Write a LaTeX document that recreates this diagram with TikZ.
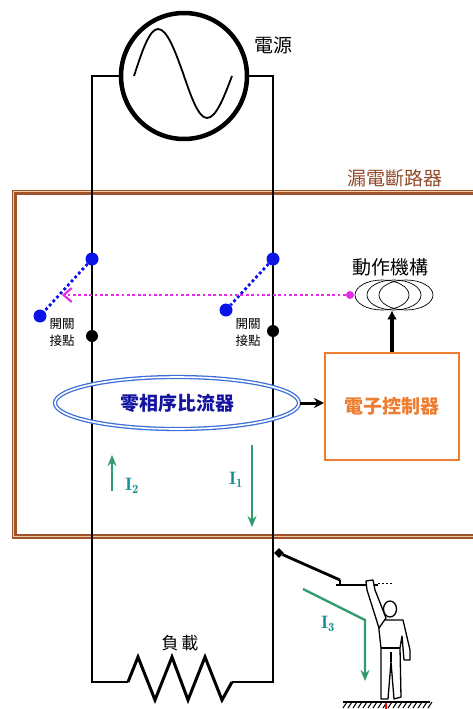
\documentclass[tikz,border=0pt]{standalone}
\usepackage{fontspec}
\newfontfamily\cjk{Noto Sans CJK TC}
\usetikzlibrary{arrows.meta,shapes.geometric}
\definecolor{BreakerBrown}{HTML}{A0522D}
\definecolor{BreakerTan}{HTML}{EBCBA5}
\definecolor{ContactBlue}{HTML}{0A14E6}
\definecolor{TripMagenta}{HTML}{E62CE6}
\definecolor{CoreBlue}{HTML}{3C6FD6}
\definecolor{CoreText}{HTML}{1414A0}
\definecolor{CtrlOrange}{HTML}{ED7D31}
\definecolor{CurrentGreen}{HTML}{2E9C6C}
\definecolor{CurrentTeal}{HTML}{178F90}

\begin{document}
\begin{tikzpicture}[x=1pt,y=-1pt,>=Latex,
  wire/.style={line width=2pt},
  contact/.style={circle,fill=ContactBlue,inner sep=0pt,minimum size=13pt},
  fixed/.style={circle,fill=black,inner sep=0pt,minimum size=12pt},
  blade/.style={ContactBlue,line width=2.8pt,dash pattern=on 2.8pt off 2.6pt},
  current/.style={CurrentGreen,line width=2.4pt,-{Stealth[length=11pt,width=9pt]}},
  ilabel/.style={text=CurrentTeal,font=\fontsize{18}{20}\selectfont},
  big/.style={font=\cjk\fontsize{19}{22}\selectfont},
  bigbold/.style={font=\cjk\bfseries\fontsize{19}{22}\selectfont},
  small/.style={font=\cjk\fontsize{12.5}{17}\selectfont,align=center},
  coil/.style={ellipse,draw,line width=.7pt,minimum width=54pt,minimum height=30pt,inner sep=0pt}]
  \clip (0,0) rectangle (473,709);

  % supply
  \node[circle,draw,line width=4.5pt,minimum size=126pt,inner sep=0pt] (src) at (184,76) {};
  \draw[line width=1.8pt] (134,76) sin (158,29) cos (183,73) sin (207,118) cos (232,76);
  \node[big] (srclbl) at (273,45) {電源};

  % breaker housing
  \draw[BreakerBrown,line width=5pt] (14.5,192.5) rectangle (490,536);
  \draw[BreakerTan,line width=1.2pt] (13.8,191.8) rectangle (490,536.7);
  \node[big,text=BreakerBrown!90!black] (brklbl) at (395,178) {漏電斷路器};

  % line, neutral and load
  \coordinate (Lbot) at (92,682);
  \coordinate (Rbot) at (273,682);
  \coordinate (resL) at (128,682);
  \coordinate (resR) at (232,682);
  \draw[wire] (src.west) -| (Lbot) -- (resL);
  \draw[wire] (src.east) -| (Rbot) -- (resR);
  \draw[line width=3pt,line join=miter] (resL) -- ++(10,-25) -- ++(17,43) -- ++(17,-43)
    -- ++(16,43) -- ++(17,-43) -- ++(17,43) -- (resR);
  \node[font=\cjk\fontsize{17}{20}\selectfont] (loadlbl) at (180,643) {負\,載};

  % contacts
  \node[contact] (la) at (92,259) {};
  \node[contact] (lb) at (40,316) {};
  \node[fixed] (lc) at (92,336) {};
  \node[contact] (ra) at (273,259) {};
  \node[contact] (rb) at (226,310) {};
  \node[fixed] (rc) at (273,331) {};
  \draw[blade] (la) -- (lb);
  \draw[blade] (ra) -- (rb);
  \node[small] (lsw) at (62,333) {開關\\接點};
  \node[small] (rsw) at (248,333) {開關\\接點};

  % trip mechanism
  \node[coil] (coil1) at (382,295) {};
  \node[coil] (coil2) at (394,295) {};
  \node[coil] (coil3) at (406,295) {};
  \node[big] (actlbl) at (390,267) {動作機構};
  \node[circle,fill=TripMagenta,inner sep=0pt,minimum size=8pt] (mdot) at (350,295) {};
  \coordinate (trip) at (62,295);
  \draw[TripMagenta,line width=2.8pt,dash pattern=on 2.8pt off 2.6pt,
    -{Straight Barb[length=8pt,width=14pt,line width=2.2pt]}] (mdot) -- (trip);

  % sensing and control
  \node[ellipse,draw=CoreBlue,double=white,double distance=1.6pt,line width=1.3pt,
    minimum width=244pt,minimum height=52pt,text=CoreText,bigbold] (ct) at (177,403) {零相序比流器};
  \node[draw=CtrlOrange,line width=2pt,minimum width=134pt,minimum height=107pt,
    text=CtrlOrange,bigbold] (ctrl) at (392,406) {電子控制器};
  \draw[line width=3pt,-{Stealth[length=10pt,width=10pt]}] (ct.east) -- (ct.east -| ctrl.west);
  \draw[line width=3.2pt,-{Latex[length=9pt,width=10pt]}] (ctrl.north) -- (ctrl.north |- coil2.south);

  % currents
  \coordinate (i2a) at (112,491);
  \coordinate (i2b) at (112,455);
  \coordinate (i1a) at (252,445);
  \coordinate (i1b) at (252,527);
  \draw[current] (i2a) -- (i2b);
  \draw[current] (i1a) -- (i1b);
  \node[ilabel] (i2lbl) at (132,486) {$\mathbf{I_2}$};
  \node[ilabel] (i1lbl) at (236,480) {$\mathbf{I_1}$};

  % leakage through a person
  \node[diamond,fill=black,inner sep=0pt,minimum size=10pt] (tap) at (279,553) {};
  \coordinate (grip) at (340,580);
  \draw[line width=2.8pt] (tap) -- (grip);
  \draw[line width=1.6pt] (grip) -- ++(0,6);
  \draw[line width=1.3pt] (336,585) -- (378,585);
  \draw[line width=.8pt,dash pattern=on 2pt off 2pt] (378,583) -- (392,583);
  \coordinate (i3a) at (303,589);
  \coordinate (i3b) at (365,620);
  \coordinate (i3c) at (365,681);
  \draw[current] (i3a) -- (i3b) -- (i3c);
  \node[ilabel] (i3lbl) at (328,624) {$\mathbf{I_3}$};

  \draw[line width=1.3pt,fill=white,line join=round] (378,620) -- (403,620) -- (410,650) -- (410,660)
    -- (404,660) -- (402,636) -- (400,648) -- (401,697) -- (394,699) -- (391,662) -- (388,699)
    -- (381,699) -- (381,648) -- (379,630) -- cycle;
  \draw[line width=1.3pt,fill=white,line join=round] (367,590) -- (366,581) -- (373,580) -- (375,590)
    -- (386,618) -- (379,628) -- cycle;
  \draw[line width=1.3pt,fill=white] (390,609) ellipse [x radius=6.5,y radius=8];
  \draw[line width=1.1pt] (381,648) -- (400,648) (391,662) -- (391,652);
  \draw[line width=1.3pt] (343,702) -- (430,702);
  \foreach \gx in {347,352,...,432} \draw[line width=1pt] (\gx,702) -- ++(-4,6);
  \draw[red,line width=1.5pt] (386,703) -- (386,709);
\end{tikzpicture}
\end{document}
